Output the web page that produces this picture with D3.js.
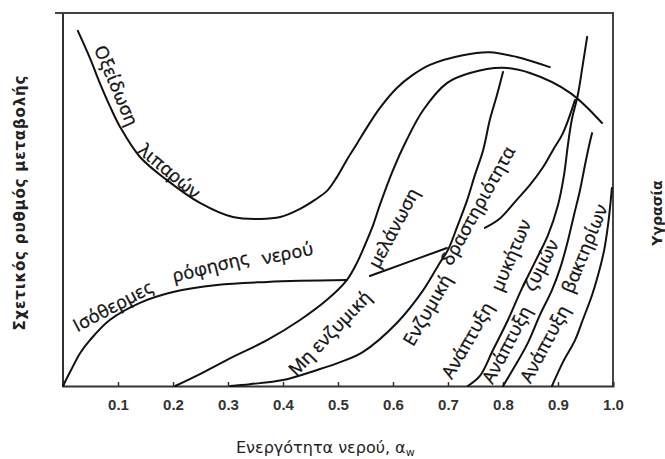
<!DOCTYPE html>
<html><head><meta charset="utf-8">
<script src="https://cdn.jsdelivr.net/npm/d3@7"></script>
<style>body{margin:0;background:#fff}</style>
</head><body>
<svg id="c" width="665" height="459"></svg>
<script>
// ---- data (x = water activity a_w, y = relative rate 0..100) ----
const tickValues = [0.1,0.2,0.3,0.4,0.5,0.6,0.7,0.8,0.9,1.0];
const tickLabels = ["0.1","0.2","0.3","0.4","0.5","0.6","0.7","0.8","0.9","1.0"];

const lipidOxidation = [[0.027,95.2],[0.049,87.9],[0.067,81.2],[0.085,75.1],[0.104,69.4],[0.140,61.4],[0.189,55.2],[0.249,49.1],[0.309,45.3],[0.358,44.8],[0.395,45.3],[0.431,47.5],[0.458,49.9],[0.480,52.3],[0.498,56.0],[0.516,60.6],[0.535,65.1],[0.553,69.4],[0.576,74.5],[0.607,79.9],[0.636,83.4],[0.667,86.1],[0.727,88.7],[0.776,89.5],[0.825,88.2],[0.885,85.5]];
const nonEnzymaticBrowning = [[0.204,0],[0.249,3.2],[0.309,7.8],[0.371,12.3],[0.431,17.7],[0.480,23.1],[0.516,28.4],[0.535,33.2],[0.549,37.8],[0.564,43.2],[0.576,48.5],[0.600,57.9],[0.625,66.0],[0.655,74.0],[0.698,81.2],[0.740,83.9],[0.800,85.3],[0.849,83.9],[0.922,78.6],[0.980,70.5]];
const enzymeActivity = [[0.304,0],[0.340,0.5],[0.400,1.6],[0.462,4.3],[0.504,6.4],[0.545,9.1],[0.607,16.9],[0.655,25.7],[0.685,33.0],[0.700,36.5],[0.718,43.2],[0.735,49.9],[0.749,56.6],[0.764,63.3],[0.776,71.3],[0.789,78.0],[0.800,84.2]];
const isothermLow = [[0,0],[0.013,3.8],[0.031,8.8],[0.049,12.3],[0.085,17.7],[0.140,22.3],[0.200,25.2],[0.280,27.1],[0.371,27.9],[0.431,28.2],[0.516,28.4]];
const isothermMid = [[0.558,29.5],[0.573,30.3],[0.698,37.0]];
const isothermHigh = [[0.767,42.4],[0.795,45.0],[0.825,49.9],[0.849,53.9],[0.873,58.7],[0.891,63.3],[0.909,67.8],[0.931,76.7]];
const moldGrowth = [[0.736,0],[0.758,2.7],[0.782,9.7],[0.809,17.7],[0.833,25.7],[0.858,33.2],[0.882,40.5],[0.900,48.5],[0.911,56.6],[0.918,64.6],[0.925,71.3],[0.936,78.0],[0.945,86.1],[0.953,93.6]];
const yeastGrowth = [[0.800,0],[0.822,5.4],[0.845,11.5],[0.867,19.0],[0.889,25.7],[0.904,31.6],[0.916,37.8],[0.929,45.8],[0.940,52.5],[0.949,59.2],[0.958,65.4],[0.962,67.8]];
const bacteriaGrowth = [[0.889,0],[0.909,6.4],[0.931,12.3],[0.945,17.7],[0.962,24.4],[0.973,29.8],[0.984,36.5],[0.991,43.2],[0.996,49.9],[0.998,53.1]];

const curves = [lipidOxidation, nonEnzymaticBrowning, enzymeActivity, isothermLow, isothermMid, isothermHigh, moldGrowth, yeastGrowth, bacteriaGrowth];

// ---- layout ----
const labelLayout = [
  {t:"Οξείδωση", x:0.056, y:90.4, a:67},
  {t:"λιπαρών", x:0.135, y:62.7, a:40},
  {t:"Ισόθερμες", x:0.026, y:14.4, a:-28},
  {t:"ρόφησης", x:0.202, y:27.8, a:-14},
  {t:"νερού", x:0.364, y:32.6, a:-11},
  {t:"Μη ενζυμική", x:0.424, y:2.4, a:-46},
  {t:"μελάνωση", x:0.574, y:31.2, a:-62},
  {t:"Ενζυμική", x:0.637, y:10.4, a:-60},
  {t:"δραστηριότητα", x:0.706, y:32.0, a:-61},
  {t:"Ανάπτυξη", x:0.707, y:1.6, a:-60},
  {t:"μυκήτων", x:0.798, y:25.0, a:-67},
  {t:"Ανάπτυξη", x:0.781, y:0.3, a:-62},
  {t:"ζυμών", x:0.857, y:25.0, a:-63},
  {t:"Ανάπτυξη", x:0.850, y:0.5, a:-62},
  {t:"βακτηρίων", x:0.927, y:24.6, a:-68}
];

const svg = d3.select("#c");
const x = d3.scaleLinear().domain([0,1]).range([63,613]);
const y = d3.scaleLinear().domain([0,100]).range([386,13]);

// frame
svg.append("line").attr("x1",55).attr("x2",x(1)+1).attr("y1",y(100)).attr("y2",y(100)).attr("stroke","#444").attr("stroke-width",2);
svg.append("line").attr("x1",x(1)).attr("x2",x(1)).attr("y1",y(100)).attr("y2",y(0)).attr("stroke","#444").attr("stroke-width",2);
svg.append("line").attr("x1",x(0)).attr("x2",x(0)).attr("y1",y(100)).attr("y2",y(0)).attr("stroke","#333").attr("stroke-width",2);

const xAxis = svg.append("g").attr("transform",`translate(0,${y(0)})`)
  .call(d3.axisBottom(x).tickValues(tickValues).tickSize(-4).tickPadding(13).tickFormat((d,i)=>tickLabels[i]));
xAxis.select(".domain").attr("stroke","#333").attr("stroke-width",2);
xAxis.selectAll(".tick line").attr("stroke","#333").attr("stroke-width",1.5);
xAxis.selectAll("text").attr("font-family","Liberation Sans, Arial, sans-serif").attr("font-size",15).attr("font-weight","bold").attr("fill","#333");

const line = d3.line().x(d=>x(d[0])).y(d=>y(d[1])).curve(d3.curveCatmullRom.alpha(0.5));
svg.append("g").selectAll("path").data(curves).join("path")
  .attr("d",line).attr("fill","none").attr("stroke","#111").attr("stroke-width",2).attr("stroke-linecap","round");

svg.append("g").selectAll("text").data(labelLayout).join("text")
  .attr("transform",d=>`translate(${x(d.x)},${y(d.y)}) rotate(${d.a})`)
  .attr("font-family","Open Sans, sans-serif").attr("font-size",18).attr("letter-spacing",0.2)
  .attr("fill","#111").attr("stroke","#111").attr("stroke-width",0.35)
  .text(d=>d.t);

// axis titles
svg.append("text").attr("transform","translate(25,203) rotate(-90)").attr("text-anchor","middle")
  .attr("font-family","DejaVu Sans, sans-serif").attr("font-weight","bold").attr("font-size",15).attr("fill","#222")
  .attr("textLength",255).attr("lengthAdjust","spacing")
  .text("Σχετικός ρυθμός μεταβολής");
svg.append("text").attr("transform","translate(662,213) rotate(-90)").attr("text-anchor","middle")
  .attr("font-family","DejaVu Sans, sans-serif").attr("font-weight","bold").attr("font-size",14).attr("fill","#222")
  .text("Υγρασία");
const xt = svg.append("text").attr("x",236).attr("y",453)
  .attr("font-family","DejaVu Sans, sans-serif").attr("font-size",16).attr("fill","#222");
xt.append("tspan").text("Ενεργότητα νερού, α");
xt.append("tspan").attr("font-size",11).attr("dy",3).text("w");
</script>
</body></html>
